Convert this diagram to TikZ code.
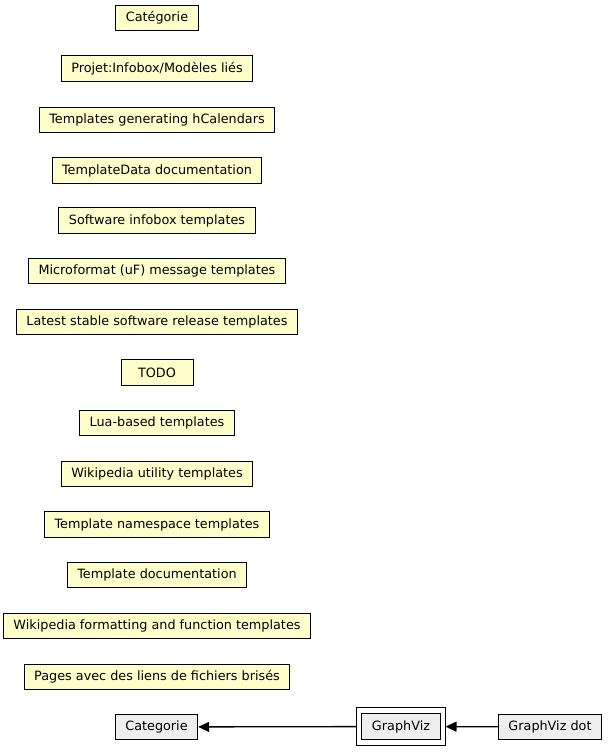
\documentclass[tikz,border=0pt]{standalone}
\usepackage{fontspec}
\setmainfont{DejaVu Sans}
\usepackage{tikz}
\usetikzlibrary{arrows.meta,fit}
\definecolor{catyellow}{HTML}{FFFFCC}
\definecolor{catgrey}{HTML}{EEEEEE}
\tikzset{
  catbox/.style={draw=black, line width=1pt, fill=catyellow, inner xsep=10pt, inner ysep=0pt,
    minimum height=25.5pt, minimum width=72pt, font=\fontsize{12.8pt}{14pt}\selectfont},
  graybox/.style={catbox, fill=catgrey},
  link/.style={line width=1.3pt, -{Triangle[length=11pt,width=10pt]}}
}
\begin{document}
\begin{tikzpicture}[x=1pt,y=1pt]
\useasboundingbox (0,0) rectangle (608,-752);
\node[catbox] (c1) at (157,-18) {Catégorie};
\node[catbox] (c2) at (157,-68.5) {Projet:Infobox/Modèles liés};
\node[catbox] (c3) at (157,-120) {Templates generating hCalendars};
\node[catbox] (c4) at (157,-170.5) {TemplateData documentation};
\node[catbox] (c5) at (157,-220.5) {Software infobox templates};
\node[catbox] (c6) at (157,-271) {Microformat (uF) message templates};
\node[catbox] (c7) at (157,-322) {Latest stable software release templates};
\node[catbox] (c8) at (157,-372.5) {TODO};
\node[catbox] (c9) at (157,-423) {Lua-based templates};
\node[catbox] (c10) at (157,-474) {Wikipedia utility templates};
\node[catbox] (c11) at (157,-524.5) {Template namespace templates};
\node[catbox] (c12) at (157,-575) {Template documentation};
\node[catbox] (c13) at (157,-626) {Wikipedia formatting and function templates};
\node[catbox] (c14) at (157,-677) {Pages avec des liens de fichiers brisés};
\node[graybox] (categorie) at (156.5,-727) {Categorie};
\node[graybox] (gv) at (401,-726.5) {GraphViz};
\node[draw=black, line width=1pt, inner xsep=4.5pt, inner ysep=5.5pt, fit=(gv)] (gvouter) {};
\node[graybox] (gvdot) at (550,-727) {GraphViz dot};
\draw[link] (gvdot) -- (gvouter);
\draw[link] (gvouter) -- (categorie);
\end{tikzpicture}
\end{document}
